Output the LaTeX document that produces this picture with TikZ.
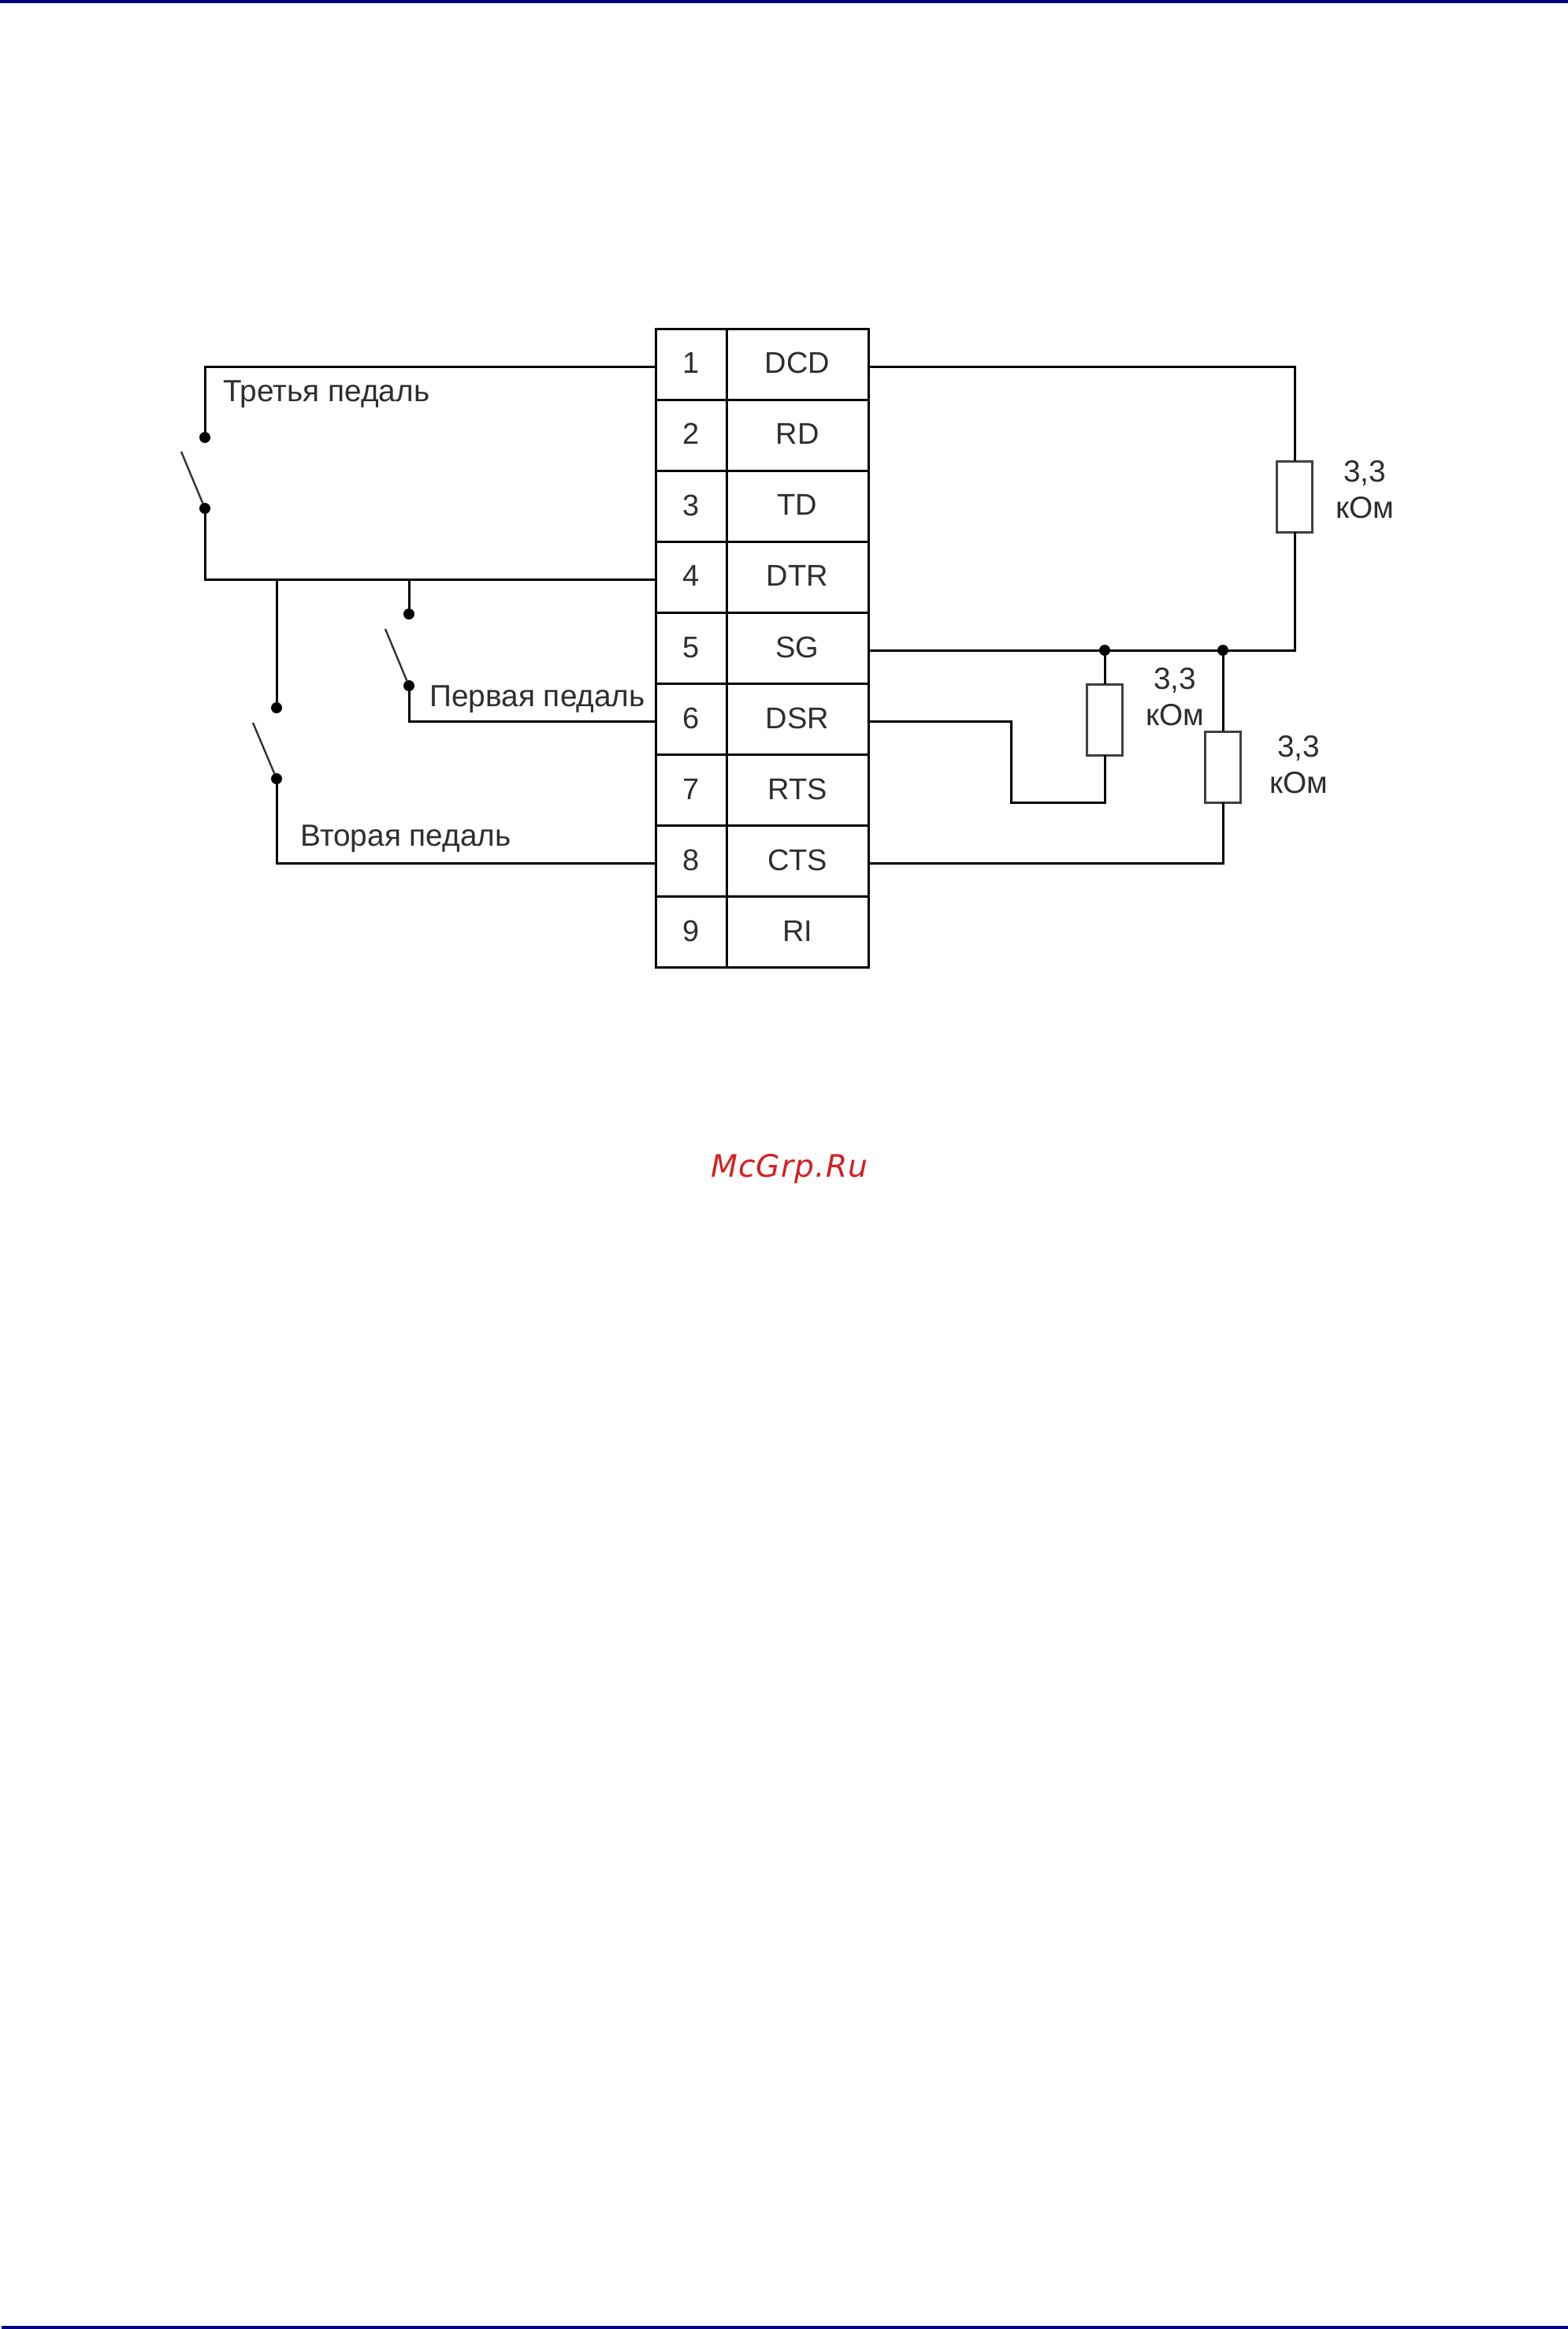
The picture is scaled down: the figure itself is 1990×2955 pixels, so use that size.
\documentclass[tikz,border=0pt]{standalone}
\usepackage{fontspec}
\setmainfont{Liberation Sans}
\newfontfamily\markfont[LetterSpace=3]{DejaVu Sans}
\definecolor{barblue}{HTML}{000080}
\definecolor{markred}{HTML}{D42020}
\definecolor{inkgray}{HTML}{2E2E2E}
\tikzset{
    numcell/.style={draw,line width=1.5pt,outer sep=0pt,minimum width=45pt,minimum height=45.05pt,inner sep=0pt,text=inkgray,font=\fontsize{19}{19}\selectfont},
    sigcell/.style={numcell,minimum width=90pt},
    dot/.style={circle,fill=black,inner sep=0pt,outer sep=0pt,minimum size=7pt},
    resist/.style={draw=black!75,line width=1.5pt,fill=white,outer sep=0pt,inner sep=0pt,minimum width=22.5pt,minimum height=45pt},
    wire/.style={line width=1.5pt},
    blade/.style={line width=1.2pt,black!80},
    lab/.style={inner sep=0pt,text=inkgray,font=\fontsize{19.4}{23}\selectfont},
    wirelow/.style={yshift=-1.5pt}
}
\begin{document}
\begin{tikzpicture}[x=0.5pt,y=-0.5pt]
    \useasboundingbox (0,0) rectangle (1990,2955);
    \fill [barblue] (0,0) rectangle (1990,4);
    \fill [barblue] (2,2951) rectangle (1990,2955);
    % connector table
    \foreach \i/\sig in {1/DCD,2/RD,3/TD,4/DTR,5/SG,6/DSR,7/RTS,8/CTS,9/RI} {
        \node [numcell] (num\i) at (877,{372+90.1*\i}) {\raisebox{1.5pt}{\i}};
        \node [sigcell] (sig\i) at (1012,{372+90.1*\i}) {\raisebox{1.5pt}{\sig}};
    }
    % pedal contacts
    \node [dot] (thirdtop) at (260,555) {};
    \node [dot] (thirdlow) at (260,645) {};
    \node [dot] (firsttop) at (519,779) {};
    \node [dot] (firstlow) at (519,870) {};
    \node [dot] (secondtop) at (351,898) {};
    \node [dot] (secondlow) at (351,988) {};
    \coordinate (thirdfree) at (230,573);
    \coordinate (firstfree) at (489,798);
    \coordinate (secondfree) at (321,917);
    \coordinate (busfour) at ([wirelow]num4.west);
    \draw [blade] (thirdfree)--(thirdlow);
    \draw [blade] (firstfree)--(firstlow);
    \draw [blade] (secondfree)--(secondlow);
    % pedal wires
    \draw [wire] ([wirelow]num1.west)-|(thirdtop);
    \draw [wire] (busfour)-|(thirdlow);
    \draw [wire] (secondtop)--(secondtop|-busfour);
    \draw [wire] (firsttop)--(firsttop|-busfour);
    \draw [wire] ([wirelow]num6.west)-|(firstlow);
    \draw [wire] ([wirelow]num8.west)-|(secondlow);
    \node [lab,right] (thirdlab) at (283,500) {Третья педаль};
    \node [lab,right] (firstlab) at (545,887) {Первая педаль};
    \node [lab,right] (secondlab) at (381,1064) {Вторая педаль};
    % resistors
    \node [resist] (resone) at (1643,630) {};
    \node [resist] (restwo) at (1402,913) {};
    \node [resist] (resthree) at (1552,973) {};
    \node [dot] (jointwo) at (1402,825) {};
    \node [dot] (jointhree) at (1552,825) {};
    \coordinate (dsrbend) at (1283,1018);
    \draw [wire] ([wirelow]sig1.east)-|(resone.north);
    \draw [wire] ([wirelow]sig5.east)-|(resone.south);
    \draw [wire] (jointwo)--(restwo.north);
    \draw [wire] (jointhree)--(resthree.north);
    \draw [wire] ([wirelow]sig6.east)-|(dsrbend)-|(restwo.south);
    \draw [wire] ([wirelow]sig8.east)-|(resthree.south);
    \node [lab,align=center] (labone) at (1732,621) {3,3\\кОм};
    \node [lab,align=center] (labtwo) at (1491,884) {3,3\\кОм};
    \node [lab,align=center] (labthree) at (1648,970) {3,3\\кОм};
    \node [text=markred,font=\markfont\itshape\fontsize{19.6}{22}\selectfont] (mark) at (1002,1483) {McGrp.Ru};
\end{tikzpicture}
\end{document}
